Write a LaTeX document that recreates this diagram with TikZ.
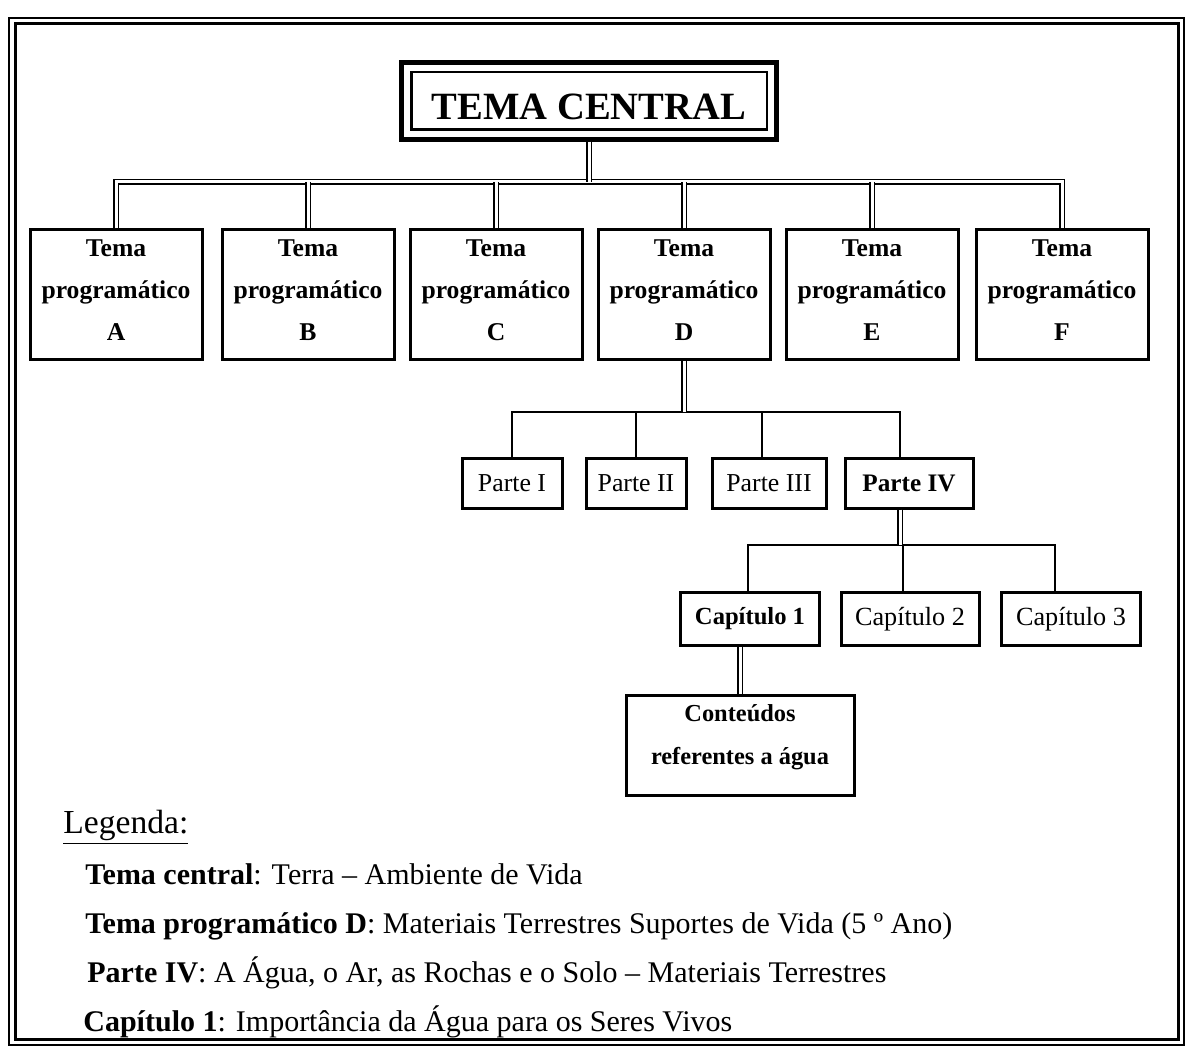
\documentclass[tikz,border=0pt]{standalone}
\usepackage{fontspec}
\setmainfont{Liberation Serif}
\usetikzlibrary{calc}
\begin{document}
\begin{tikzpicture}[x=0.5pt,y=-0.5pt,
  tpbox/.style={draw, line width=1.5pt, minimum width=86pt, minimum height=65pt,
    inner sep=0pt, align=center, text depth=5pt, font=\bfseries\fontsize{12.8}{21}\selectfont},
  partbox/.style={draw, line width=1.5pt, minimum height=25pt, inner sep=0pt,
    font=\fontsize{12.9}{15}\selectfont},
  capbox/.style={draw, line width=1.5pt, minimum height=26.5pt, inner sep=0pt,
    font=\fontsize{13.1}{16}\selectfont},
  dbl/.style={draw, line width=0.9pt, double, double distance=1.5pt},
  link/.style={draw, line width=0.8pt},
  legtext/.style={anchor=base west, inner sep=0pt, font=\fontsize{15}{18}\selectfont},
]
\useasboundingbox (0,0) rectangle (1188,1053);

% page frame (double rule)
\draw[line width=1pt] (9,18) rectangle (1184,1045);
\draw[line width=1.5pt] (15,24) rectangle (1178,1039);

% central theme, framed twice
\node[draw, line width=2.2pt, minimum width=187.5pt, minimum height=38.5pt, inner sep=0pt,
  font=\bfseries\fontsize{19.3}{20}\selectfont] (tema) at (589,101)
  {\raisebox{-3pt}[\height][0pt]{TEMA CENTRAL}};
\draw[line width=1.2pt] ($(tema.north west)+(12,12)$) rectangle ($(tema.south east)+(-12,-12)$);

% programme themes
\node[tpbox] (tA) at (116,295)  {Tema\\programático\\A};
\node[tpbox] (tB) at (308,295)  {Tema\\programático\\B};
\node[tpbox] (tC) at (496,295)  {Tema\\programático\\C};
\node[tpbox] (tD) at (684,295)  {Tema\\programático\\D};
\node[tpbox] (tE) at (872,295)  {Tema\\programático\\E};
\node[tpbox] (tF) at (1062,295) {Tema\\programático\\F};

% parts of theme D
\node[partbox, minimum width=50pt] (p1) at (512,483) {Parte I};
\node[partbox, minimum width=50pt] (p2) at (636,483) {Parte II};
\node[partbox, minimum width=57pt] (p3) at (769,483) {Parte III};
\node[partbox, minimum width=64pt, font=\bfseries\fontsize{12.6}{15}\selectfont] (p4) at (909,483) {Parte IV};

% chapters of part IV
\node[capbox, minimum width=69.5pt, font=\bfseries\fontsize{12.3}{16}\selectfont] (c1) at (750,619) {Capítulo 1};
\node[capbox, minimum width=69pt] (c2) at (910,619) {Capítulo 2};
\node[capbox, minimum width=69.5pt] (c3) at (1071,619) {Capítulo 3};

% contents of chapter 1
\node[draw, line width=1.5pt, minimum width=114pt, minimum height=50pt, inner sep=0pt,
  align=center, text depth=10pt, font=\bfseries\fontsize{12.2}{21.5}\selectfont] (cont) at (740,745)
  {Conteúdos\\referentes a água};

% level 1: central theme to programme themes
\coordinate (bus) at (590,182);
\draw[dbl] (tA.north) -- (tA.north |- bus) -- (tF.north |- bus) -- (tF.north);
\foreach \n in {tB,tC,tD,tE} \draw[dbl] (\n.north) -- (\n.north |- bus);
\draw[dbl] (tema.south) -- (tema.south |- bus);

% level 2: theme D to its parts
\coordinate (pbus) at (684,412);
\coordinate (j3) at (762,412);
\coordinate (j4) at (900,412);
\draw[link] (p1.north) -- (p1.north |- pbus) -- (j4) -- (j4 |- p4.north);
\draw[link] (p2.north) -- (p2.north |- pbus);
\draw[link] (j3) -- (j3 |- p3.north);
\draw[dbl] (tD.south) -- (pbus);

% level 3: part IV to its chapters
\coordinate (cbus) at (900,545);
\coordinate (k1) at (748,545);
\coordinate (k2) at (903,545);
\coordinate (k3) at (1055,545);
\draw[link] (k1 |- c1.north) -- (k1) -- (k3) -- (k3 |- c3.north);
\draw[link] (k2) -- (k2 |- c2.north);
\draw[dbl] (cbus |- p4.south) -- (cbus);

% level 4: chapter 1 to its contents
\draw[dbl] (cont.north) -- (cont.north |- c1.south);

% legend
\node[anchor=base west, inner sep=0pt, font=\fontsize{16.8}{18}\selectfont] (leg) at (63,833) {\underline{Legenda:}};
\node[legtext] (l1) at (85,884)  {\textbf{Tema central}: Terra – Ambiente de Vida};
\node[legtext] (l2) at (85,933)  {\textbf{Tema programático D}: Materiais Terrestres Suportes de Vida (5 º Ano)};
\node[legtext] (l3) at (87,982)  {\textbf{Parte IV}: A Água, o Ar, as Rochas e o Solo – Materiais Terrestres};
\node[legtext] (l4) at (83,1031) {\textbf{Capítulo 1}: Importância da Água para os Seres Vivos};
\end{tikzpicture}
\end{document}
